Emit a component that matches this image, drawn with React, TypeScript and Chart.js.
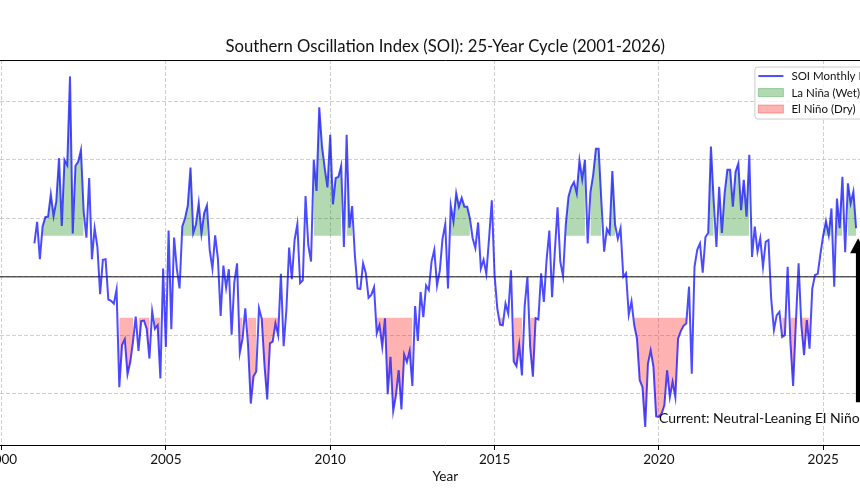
import React, { useEffect, useRef } from "react";
import { Chart, registerables } from "chart.js";

Chart.register(...registerables);

const FONT = "Lato, 'Open Sans', 'DejaVu Sans', sans-serif";

// Monthly Southern Oscillation Index readings, January 2001 onward
const soi2001to2005 = [
  5.7, 9.4, 3.0, 8.6, 10.2, 10.3, 14.1, 10.4, 12.9, 20.3, 8.7, 20.0,
  19.1, 34.3, 7.4, 19.0, 19.7, 21.7, 11.1, 6.7, 16.9, 3.0, 8.3, 5.1,
  -3.0, 2.9, 3.0, -3.9, -4.1, -4.6, -2.2, -18.9, -11.7, -10.7, -16.7, -14.6,
  -11.1, -6.8, -12.7, -7.6, -7.5, -8.9, -14.0, -5.9, -8.9, -8.3, -17.4, 1.4,
  -12.0, 7.9, -9.0, 6.7, 1.4, -2.0, 8.6, 10.0, 12.2, 18.7, 7.5, 9.0,
];
const soi2006to2010 = [
  12.6, 7.4, 10.9, 12.2, 4.6, 1.4, 7.1, 3.1, -6.7, 1.9, -1.9, 1.3,
  -9.9, -0.9, 2.3, -13.0, -10.6, -5.4, -11.7, -21.7, -17.1, -16.2, -5.4, -7.2,
  -15.1, -21.0, -11.4, -11.1, -8.0, -10.0, 0.5, -11.9, -5.7, 5.0, -0.4, 6.3,
  9.0, -1.1, -0.6, 13.8, 5.4, 2.6, 20.0, 14.7, 29.0, 22.3, 18.6, 15.3,
  24.3, 12.4, 16.9, 17.1, 19.0, 5.1, 24.3, 8.4, 12.1, 3.7, -2.0, -2.1,
];
const soi2011to2015 = [
  2.3, 0.6, -3.6, -3.1, -1.8, -9.7, -8.3, -12.0, -7.1, -20.1, -13.7, -23.0,
  -20.3, -16.0, -22.7, -13.3, -14.6, -12.7, -18.7, -5.0, -11.0, -2.6, -6.9, -1.5,
  -2.3, 2.6, 4.6, -1.5, 1.0, 6.5, 9.0, -2.0, 12.2, 9.5, 14.3, 12.0,
  13.5, 12.0, 12.0, 10.0, 6.6, 4.9, 9.3, 1.4, 2.9, 0.5, 6.6, 13.1,
  0.3, -5.4, -8.2, -8.3, -4.6, -6.3, 1.1, -14.5, -15.3, -11.7, -16.9, -5.0,
];
const soi2016to2020 = [
  0.0, -12.0, -17.1, -7.1, -7.3, 0.6, -4.3, 2.9, 7.9, -3.5, 4.3, 11.9,
  2.6, 0.1, 8.9, 13.7, 15.4, 16.2, 14.3, 19.9, 16.7, 20.0, 5.7, 14.5,
  17.4, 21.9, 21.9, 12.9, 4.3, 8.2, 7.4, 18.1, 8.9, 6.5, 8.3, 0.0,
  0.6, -6.5, -4.2, -8.3, -10.6, -17.7, -18.9, -25.7, -14.9, -12.6, -15.4, -23.9,
  -24.0, -23.4, -22.0, -16.0, -20.6, -18.0, -20.6, -10.6, -9.3, -8.4, -8.0, -1.7,
];
const soi2021to2026 = [
  -16.6, 1.7, 4.6, 5.7, 0.7, 6.8, 7.5, 22.3, 13.0, 5.1, 15.4, 7.5,
  14.3, 18.3, 18.3, 12.0, 18.0, 19.4, 11.4, 16.6, 10.3, 20.9, 3.4, 8.6,
  4.3, 6.6, 1.7, 6.0, 6.3, -3.8, -9.1, -6.6, -6.0, -10.3, -10.0, 1.7,
  -11.1, -18.7, -8.0, 2.3, -8.3, -13.4, -7.4, -12.3, -2.0, 0.3, 0.5, 4.0,
  7.1, 9.5, 7.1, 11.7, -1.7, 13.4, 8.3, 17.1, 4.2, 16.0, 12.6, 14.6,
  8.3,
];

const START_YEAR = 2001;
const yearTicks = [2000, 2005, 2010, 2015, 2020, 2025];
const soiTicks = [-20, -10, 0, 10, 20, 30];
const LA_NINA_THRESHOLD = 7;
const EL_NINO_THRESHOLD = -7;

const CHART_TITLE = "Southern Oscillation Index (SOI): 25-Year Cycle (2001-2026)";
const X_TITLE = "Year";
const SERIES_LABEL = "SOI Monthly Index";
const LA_NINA_LABEL = "La Niña (Wet)";
const EL_NINO_LABEL = "El Niño (Dry)";
const NOTE_TEXT = "Current: Neutral-Leaning El Niño";
const NOTE_ANCHOR = { x: 2020.0, y: -24.2 };
const ARROW_BASE_Y = -21.5;

const X_MIN = 1999.75;
const X_MAX = 2027.25;
const Y_MIN = -28.8;
const Y_MAX = 37.1;

const LINE_COLOR = "rgba(0, 0, 255, 0.7)";
const WET_COLOR = "rgba(0, 128, 0, 0.3)";
const DRY_COLOR = "rgba(255, 0, 0, 0.3)";

const soiMonthly = [
  ...soi2001to2005,
  ...soi2006to2010,
  ...soi2011to2015,
  ...soi2016to2020,
  ...soi2021to2026,
];

const soiPoints = soiMonthly.map((v, i) => ({ x: START_YEAR + i / 12, y: v }));
const wetPoints = soiPoints.map((p) => ({ x: p.x, y: p.y > LA_NINA_THRESHOLD ? p.y : null }));
const dryPoints = soiPoints.map((p) => ({ x: p.x, y: p.y < EL_NINO_THRESHOLD ? p.y : null }));

// zero reference line across the plot
const zeroLinePlugin = {
  id: "zeroLine",
  beforeDatasetsDraw(chart: any) {
    const { ctx, chartArea, scales } = chart;
    const y = scales.y.getPixelForValue(0);
    ctx.save();
    ctx.strokeStyle = "rgba(0, 0, 0, 0.62)";
    ctx.lineWidth = 1.5;
    ctx.beginPath();
    ctx.moveTo(chartArea.left, y);
    ctx.lineTo(chartArea.right, y);
    ctx.stroke();
    ctx.restore();
  },
};

// top frame line, legend box, note and arrow
const overlayPlugin = {
  id: "overlay",
  afterDraw(chart: any) {
    const { ctx, chartArea, scales } = chart;
    const xs = scales.x;
    const ys = scales.y;
    ctx.save();

    // top spine
    ctx.strokeStyle = "#000";
    ctx.lineWidth = 1;
    ctx.beginPath();
    ctx.moveTo(chartArea.left, chartArea.top + 0.5);
    ctx.lineTo(chartArea.right, chartArea.top + 0.5);
    ctx.stroke();

    // legend
    const fs = 11.5;
    ctx.font = `${fs}px ${FONT}`;
    const entries = [
      { label: SERIES_LABEL, kind: "line", color: LINE_COLOR },
      { label: LA_NINA_LABEL, kind: "patch", color: WET_COLOR },
      { label: EL_NINO_LABEL, kind: "patch", color: DRY_COLOR },
    ];
    const textW = Math.max(...entries.map((e) => ctx.measureText(e.label).width));
    const pad = 4.5;
    const handleW = 25;
    const gap = 8;
    const rowH = 16.5;
    const boxRight = chartArea.right - 5.5;
    const boxW = pad + handleW + gap + textW + pad;
    const boxLeft = boxRight - boxW;
    const boxTop = chartArea.top + 7;
    const boxH = 9 + rowH * (entries.length - 1) + 10;
    ctx.beginPath();
    (ctx as any).roundRect(boxLeft, boxTop, boxW, boxH, 3);
    ctx.fillStyle = "rgba(255,255,255,0.8)";
    ctx.fill();
    ctx.strokeStyle = "#cccccc";
    ctx.lineWidth = 1;
    ctx.stroke();
    entries.forEach((e, i) => {
      const cy = boxTop + 9 + i * rowH;
      const hx = boxLeft + 3.5;
      if (e.kind === "line") {
        ctx.strokeStyle = e.color;
        ctx.lineWidth = 2;
        ctx.beginPath();
        ctx.moveTo(hx, cy);
        ctx.lineTo(hx + handleW, cy);
        ctx.stroke();
      } else {
        ctx.fillStyle = e.color;
        ctx.fillRect(hx, cy - 4, handleW, 8);
        ctx.strokeStyle = e.color;
        ctx.lineWidth = 1;
        ctx.strokeRect(hx, cy - 4, handleW, 8);
      }
      ctx.fillStyle = "#111";
      ctx.textAlign = "left";
      ctx.textBaseline = "middle";
      ctx.fillText(e.label, hx + handleW + gap, cy + 0.5);
    });

    // note text
    ctx.font = `14px ${FONT}`;
    ctx.fillStyle = "#111";
    ctx.textAlign = "left";
    ctx.textBaseline = "middle";
    ctx.fillText(NOTE_TEXT, xs.getPixelForValue(NOTE_ANCHOR.x), ys.getPixelForValue(NOTE_ANCHOR.y));

    // arrow to the latest reading
    const last = soiPoints[soiPoints.length - 1];
    const ax = xs.getPixelForValue(last.x) + 2;
    const tipY = ys.getPixelForValue(last.y) + 10;
    const baseY = ys.getPixelForValue(ARROW_BASE_Y);
    const headLen = 15;
    const headHalf = 8;
    const shaftHalf = 2.2;
    ctx.fillStyle = "#000";
    ctx.beginPath();
    ctx.moveTo(ax - shaftHalf, baseY);
    ctx.lineTo(ax - shaftHalf, tipY + headLen);
    ctx.lineTo(ax - headHalf, tipY + headLen);
    ctx.lineTo(ax, tipY);
    ctx.lineTo(ax + headHalf, tipY + headLen);
    ctx.lineTo(ax + shaftHalf, tipY + headLen);
    ctx.lineTo(ax + shaftHalf, baseY);
    ctx.closePath();
    ctx.fill();

    ctx.restore();
  },
};

export default function App() {
  const canvasRef = useRef<HTMLCanvasElement | null>(null);

  useEffect(() => {
    const canvas = canvasRef.current;
    if (!canvas) return;
    const gridColor = "rgba(176, 176, 176, 0.6)";
    const chart = new Chart(canvas, {
      type: "line",
      data: {
        datasets: [
          {
            label: SERIES_LABEL,
            data: soiPoints,
            borderColor: LINE_COLOR,
            borderWidth: 2,
            pointRadius: 0,
            fill: false,
            order: 0,
          },
          {
            label: LA_NINA_LABEL,
            data: wetPoints,
            borderWidth: 0,
            borderColor: "rgba(0,0,0,0)",
            backgroundColor: WET_COLOR,
            pointRadius: 0,
            spanGaps: false,
            fill: { value: LA_NINA_THRESHOLD },
            order: 1,
          },
          {
            label: EL_NINO_LABEL,
            data: dryPoints,
            borderWidth: 0,
            borderColor: "rgba(0,0,0,0)",
            backgroundColor: DRY_COLOR,
            pointRadius: 0,
            spanGaps: false,
            fill: { value: EL_NINO_THRESHOLD },
            order: 2,
          },
        ],
      } as any,
      options: {
        responsive: false,
        animation: false,
        devicePixelRatio: 1,
        layout: { padding: { left: 0, right: 52.8, top: 37, bottom: 0 } },
        elements: { line: { tension: 0 }, point: { radius: 0 } },
        plugins: {
          legend: { display: false },
          tooltip: { enabled: false },
          title: {
            display: true,
            text: CHART_TITLE,
            fullSize: false,
            color: "#111",
            font: { family: FONT, size: 16.7, weight: "normal" },
            padding: { top: 0, bottom: 3 },
          },
        },
        scales: {
          x: {
            type: "linear",
            min: X_MIN,
            max: X_MAX,
            afterBuildTicks: (s: any) => {
              s.ticks = yearTicks.map((v) => ({ value: v }));
            },
            afterFit: (s: any) => {
              s.height = 55;
            },
            ticks: {
              callback: (v: any) => String(v),
              color: "#111",
              font: { family: FONT, size: 13.5 },
              padding: 2,
              maxRotation: 0,
              autoSkip: false,
            },
            grid: {
              color: gridColor,
              lineWidth: 1,
              drawTicks: true,
              tickLength: 5,
              tickColor: "#000",
              tickWidth: 1,
            },
            border: { display: true, color: "#000", width: 1, dash: [4, 2] },
            title: {
              display: true,
              text: X_TITLE,
              color: "#111",
              font: { family: FONT, size: 13.5 },
              padding: { top: 0, bottom: 15.5 },
            },
          },
          y: {
            type: "linear",
            min: Y_MIN,
            max: Y_MAX,
            afterBuildTicks: (s: any) => {
              s.ticks = soiTicks.map((v) => ({ value: v }));
            },
            afterFit: (s: any) => {
              s.width = 53.3;
            },
            ticks: { color: "#111", font: { family: FONT, size: 13 } },
            grid: {
              color: gridColor,
              lineWidth: 1,
              drawTicks: true,
              tickLength: 5,
              tickColor: "#000",
            },
            border: { display: true, color: "#000", width: 1, dash: [4, 2] },
          },
        },
      } as any,
      plugins: [zeroLinePlugin, overlayPlugin],
    });
    return () => chart.destroy();
  }, []);

  return (
    <div style={{ position: "fixed", left: -60, top: 0, width: 1010, height: 500 }}>
      <canvas
        ref={canvasRef}
        width={1010}
        height={500}
        style={{ display: "block", width: 1010, height: 500 }}
      />
    </div>
  );
}
